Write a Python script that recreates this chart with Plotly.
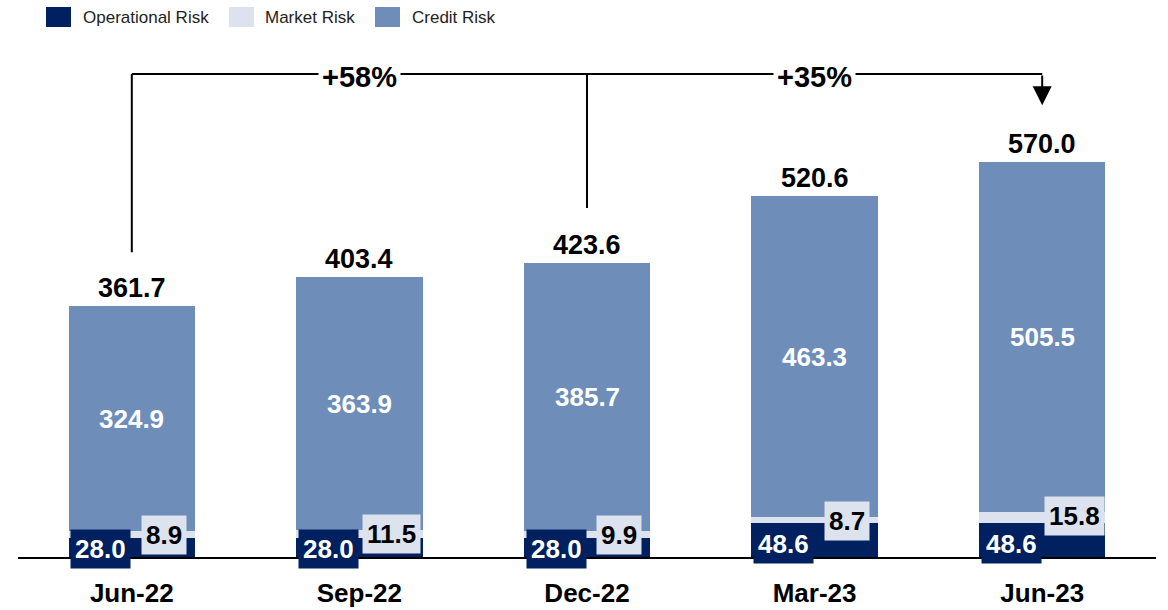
import plotly.graph_objects as go

# ---- data ----
categories = ["Jun-22", "Sep-22", "Dec-22", "Mar-23", "Jun-23"]
operational = [28.0, 28.0, 28.0, 48.6, 48.6]
market = [8.9, 11.5, 9.9, 8.7, 15.8]
credit = [324.9, 363.9, 385.7, 463.3, 505.5]
totals = [361.7, 403.4, 423.6, 520.6, 570.0]
growth_labels = ["+58%", "+35%"]
series_names = ["Operational Risk", "Market Risk", "Credit Risk"]

# ---- style ----
NAVY = "#002060"
LIGHT = "#DCE3EE"
BLUE = "#6E8DB9"
FONT = "Liberation Sans, Arial, sans-serif"
W, H = 1168, 610
ML, MR, MT, MB = 18, 12, 40, 53
YMAX = 746

fig = go.Figure()
for name, vals, col in zip(series_names, [operational, market, credit], [NAVY, LIGHT, BLUE]):
    fig.add_trace(go.Bar(x=categories, y=vals, name=name, marker=dict(color=col, line=dict(width=0)),
                         width=0.555, showlegend=False, hoverinfo="skip"))

ann = []
shapes = []
for i, c in enumerate(categories):
    op, mk, cr, tot = operational[i], market[i], credit[i], totals[i]
    # total
    ann.append(dict(x=c, y=tot, text=f"{tot:.1f}", showarrow=False, yanchor="bottom", yshift=1,
                    font=dict(family=FONT, size=27, color="black", weight="bold")))
    # credit
    ann.append(dict(x=c, y=op + mk + cr / 2, text=f"{cr:.1f}", showarrow=False,
                    font=dict(family=FONT, size=26, color="white", weight="bold")))
    # operational
    ann.append(dict(x=c, y=op * 0.4, text=f"{op:.1f}", showarrow=False, xshift=-31,
                    bgcolor=NAVY, borderpad=4, height=30,
                    font=dict(family=FONT, size=26, color="white", weight="bold")))
    # market
    ann.append(dict(x=c, y=op + mk, text=f"{mk:.1f}", showarrow=False, xshift=32, yshift=-4,
                    bgcolor=LIGHT, borderpad=4, height=30,
                    font=dict(family=FONT, size=26, color="black", weight="bold")))

# growth brackets
lineY = max(totals) + 127
line = dict(color="black", width=2)
shapes.append(dict(type="line", xref="x", yref="y", x0=0, x1=0, y0=totals[0] + 78, y1=lineY, line=line))
shapes.append(dict(type="line", xref="x", yref="y", x0=0, x1=4, y0=lineY, y1=lineY, line=line))
shapes.append(dict(type="line", xref="x", yref="y", x0=2, x1=2, y0=totals[2] + 80, y1=lineY, line=line))
ann.append(dict(x=4, y=totals[4] + 82, ax=4, ay=lineY, axref="x", ayref="y", xref="x", yref="y",
                text="", showarrow=True, arrowhead=2, arrowsize=1.9, arrowwidth=2, arrowcolor="black"))
for xi, g in zip([1, 3], growth_labels):
    ann.append(dict(x=xi, y=lineY, text=g, showarrow=False, bgcolor="white", borderpad=3, yshift=-3,
                    font=dict(family=FONT, size=29, color="black", weight="bold")))

# custom legend (pixel positions -> paper coords)
pw = W - ML - MR
ph = H - MT - MB
def px(x):
    return (x - ML) / pw
def py(y):
    return (H - MB - y) / ph

legend_items = [(46, 81, NAVY), (229, 263, LIGHT), (375, 410, BLUE)]
for (sx, tx, col), name in zip(legend_items, series_names):
    shapes.append(dict(type="rect", xref="paper", yref="paper", x0=px(sx), x1=px(sx + 25),
                       y0=py(27), y1=py(7), fillcolor=col, line=dict(width=0)))
    ann.append(dict(xref="paper", yref="paper", x=px(tx), y=py(17), text=name, showarrow=False,
                    xanchor="left", yanchor="middle", font=dict(family=FONT, size=17, color="#222222")))

fig.update_layout(
    width=W, height=H, barmode="stack", bargap=0.445,
    margin=dict(l=ML, r=MR, t=MT, b=MB, autoexpand=False),
    plot_bgcolor="white", paper_bgcolor="white",
    annotations=ann, shapes=shapes,
    xaxis=dict(type="category", range=[-0.5, 4.5], showline=True, linecolor="black", linewidth=1.5,
               showgrid=False, zeroline=False, ticks="outside", ticklen=12, tickcolor="rgba(0,0,0,0)",
               automargin=False,
               tickfont=dict(family=FONT, size=26, color="black", weight="bold")),
    yaxis=dict(range=[0, YMAX], visible=False, automargin=False),
    font=dict(family=FONT),
)

fig.write_html("out.html", config={"displayModeBar": False},
               post_script="document.body.style.margin='0';document.body.style.overflow='hidden';")
